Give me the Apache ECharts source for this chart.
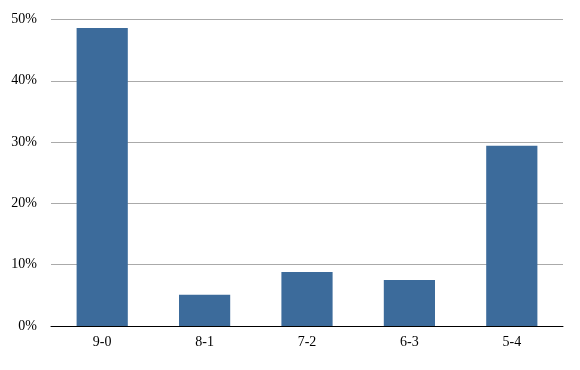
<!DOCTYPE html>
<html>
<head>
<meta charset="utf-8">
<script src="https://cdn.jsdelivr.net/npm/echarts@6/dist/echarts.min.js"></script>
<style>html,body{margin:0;padding:0;background:#fff}#c{width:580px;height:370px}</style>
</head>
<body>
<div id="c"></div>
<script>
var categories = ['9-0', '8-1', '7-2', '6-3', '5-4'];
var values = [48.6, 5.1, 8.8, 7.5, 29.4];
var yTicks = [0, 10, 20, 30, 40, 50];

var chart = echarts.init(document.getElementById('c'), null, {renderer: 'canvas'});
chart.setOption({
  animation: false,
  grid: {left: 51, right: 17, top: 19.5, bottom: 44},
  xAxis: {
    type: 'category',
    data: categories,
    axisTick: {show: false},
    axisLine: {show: true, lineStyle: {color: '#000', width: 1}},
    axisLabel: {color: '#000', fontFamily: 'Liberation Serif', fontSize: 14, margin: 9}
  },
  yAxis: {
    type: 'value',
    min: yTicks[0],
    max: yTicks[yTicks.length - 1],
    interval: 10,
    axisLine: {show: false},
    axisTick: {show: false},
    splitLine: {lineStyle: {color: '#aaaaaa', width: 1}},
    axisLabel: {color: '#000', fontFamily: 'Liberation Serif', fontSize: 14, margin: 14, formatter: '{value}%'}
  },
  series: [{
    type: 'bar',
    data: values,
    barWidth: '50%',
    itemStyle: {color: '#3c6b9b'}
  }]
});
</script>
</body>
</html>
